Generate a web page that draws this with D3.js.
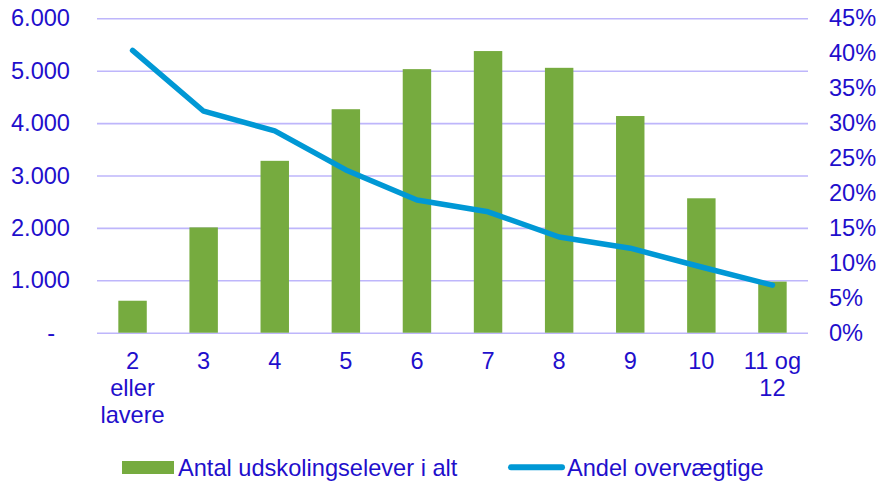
<!DOCTYPE html>
<html><head><meta charset="utf-8">
<script src="https://cdn.jsdelivr.net/npm/d3@7"></script>
<style>
html,body{margin:0;padding:0;background:#fff;}
svg{display:block;font-family:"Liberation Sans",Arial,sans-serif;}
</style></head>
<body>
<svg id="chart" width="879" height="482"></svg>
<script>
const categories = ["2 eller lavere","3","4","5","6","7","8","9","10","11 og 12"];
const categoryLines = [["2","eller","lavere"],["3"],["4"],["5"],["6"],["7"],["8"],["9"],["10"],["11 og","12"]];
const students = [610, 2010, 3280, 4265, 5030, 5375, 5055, 4135, 2565, 975];
const overweightShare = [0.404, 0.317, 0.289, 0.233, 0.190, 0.173, 0.137, 0.121, 0.094, 0.068];
const leftTicks = [0, 1000, 2000, 3000, 4000, 5000, 6000];
const leftTickLabels = ["-", "1.000", "2.000", "3.000", "4.000", "5.000", "6.000"];
const rightTicks = [0, 0.05, 0.10, 0.15, 0.20, 0.25, 0.30, 0.35, 0.40, 0.45];
const rightTickLabels = ["0%","5%","10%","15%","20%","25%","30%","35%","40%","45%"];
const seriesNames = ["Antal udskolingselever i alt", "Andel overvægtige"];

const textColor = "#1f0fcc", gridColor = "#beb6fb", barColor = "#76ab3f", lineColor = "#0098d5";
const fs = 23.6;
const svg = d3.select("#chart");
const pLeft = 97, pRight = 808, pTop = 18.3, pBottom = 332.7;

const x = d3.scaleBand().domain(categories).range([pLeft, pRight]).paddingInner(0.6).paddingOuter(0.3);
const y = d3.scaleLinear().domain([0, 6000]).range([pBottom, pTop]);
const y2 = d3.scaleLinear().domain([0, 0.45]).range([pBottom, pTop]);

// gridlines
const gAxisL = svg.append("g").attr("transform", `translate(${pLeft},0)`)
  .call(d3.axisLeft(y).tickValues(leftTicks).tickSize(-(pRight-pLeft)).tickPadding(27)
    .tickFormat((d,i)=>leftTickLabels[i]));
gAxisL.select(".domain").remove();
gAxisL.selectAll(".tick line").attr("stroke", gridColor).attr("stroke-width", 1.6);
gAxisL.selectAll(".tick text").attr("fill", textColor).attr("font-size", fs)
  .attr("font-family", "Liberation Sans, Arial, sans-serif")
  .attr("dx", d => d === 0 ? -15 : 0);

// bars
svg.append("g").selectAll("rect").data(students).join("rect")
  .attr("x", (d,i)=>x(categories[i]))
  .attr("width", x.bandwidth())
  .attr("y", d=>y(d))
  .attr("height", d=>y(0)-y(d))
  .attr("fill", barColor);

// line
const line = d3.line().x((d,i)=>x(categories[i]) + x.bandwidth()/2).y(d=>y2(d));
svg.append("path").datum(overweightShare)
  .attr("d", line).attr("fill","none").attr("stroke", lineColor)
  .attr("stroke-width", 5.5).attr("stroke-linecap","round").attr("stroke-linejoin","round");

// right axis
const gAxisR = svg.append("g").attr("transform", `translate(${pRight},0)`)
  .call(d3.axisRight(y2).tickValues(rightTicks).tickSize(0).tickPadding(21)
    .tickFormat((d,i)=>rightTickLabels[i]));
gAxisR.select(".domain").remove();
gAxisR.selectAll(".tick text").attr("fill", textColor).attr("font-size", fs)
  .attr("font-family", "Liberation Sans, Arial, sans-serif");

// x axis labels
const gAxisB = svg.append("g").attr("transform", `translate(0,${pBottom})`)
  .call(d3.axisBottom(x).tickSize(0).tickPadding(0).tickFormat(""));
gAxisB.select(".domain").remove();
gAxisB.selectAll(".tick").each(function(d,i){
  const t = d3.select(this).select("text").attr("fill", textColor).attr("font-size", fs)
    .attr("font-family", "Liberation Sans, Arial, sans-serif").attr("y", 36.3).attr("dy", 0);
  categoryLines[i].forEach((ln,j)=>{
    t.append("tspan").attr("x", 0).attr("y", 36.3 + j*27).text(ln);
  });
});

// legend
const lg = svg.append("g");
lg.append("rect").attr("x", 122).attr("y", 461).attr("width", 52).attr("height", 13).attr("fill", barColor);
lg.append("text").attr("x", 178).attr("y", 475.7).attr("fill", textColor).attr("font-size", fs).text(seriesNames[0]);
lg.append("line").attr("x1", 511).attr("x2", 562).attr("y1", 467.3).attr("y2", 467.3)
  .attr("stroke", lineColor).attr("stroke-width", 6).attr("stroke-linecap","round");
lg.append("text").attr("x", 567).attr("y", 475.7).attr("fill", textColor).attr("font-size", fs).text(seriesNames[1]);
</script>
</body></html>
